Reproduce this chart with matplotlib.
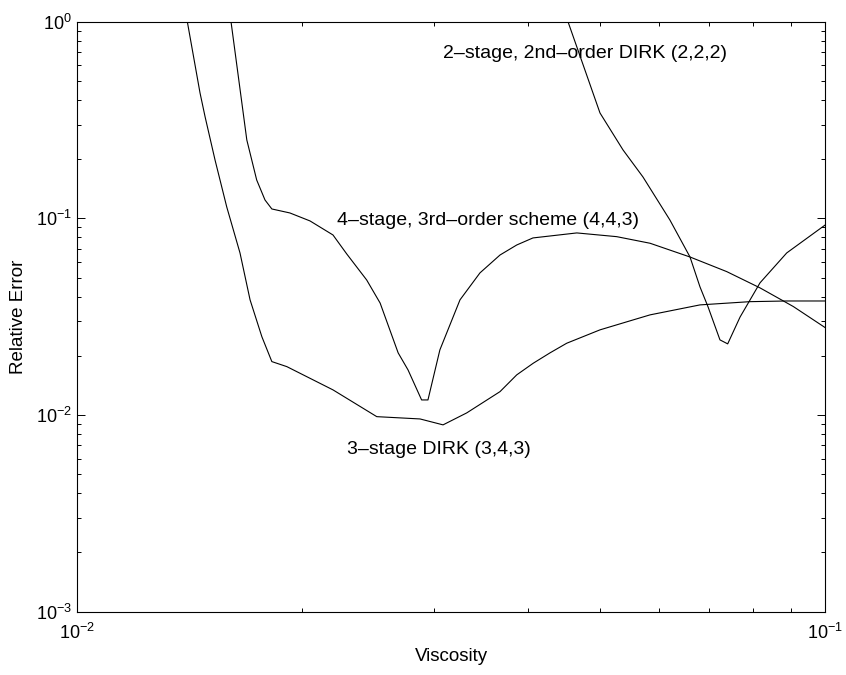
import numpy as np
import matplotlib.pyplot as plt
from matplotlib.ticker import NullFormatter

plt.rcParams['font.family'] = ['Liberation Sans', 'DejaVu Sans']
plt.rcParams['mathtext.default'] = 'regular'

# 3-stage DIRK (3,4,3)
nu_343 = [0.01403, 0.01459, 0.01482, 0.01528, 0.01584, 0.01650, 0.01702, 0.01765,
          0.01820, 0.01906, 0.02197, 0.02514, 0.02872, 0.03083, 0.03316, 0.03674,
          0.03868, 0.04070, 0.04285, 0.04511, 0.04998, 0.05534, 0.05831, 0.06800,
          0.07930, 0.08881, 0.1]
err_343 = [1.0, 0.434, 0.328, 0.198, 0.1143, 0.0667, 0.0385, 0.0250,
           0.01869, 0.01762, 0.01342, 0.00981, 0.00955, 0.00891, 0.01025, 0.01315,
           0.01600, 0.01834, 0.0207, 0.02317, 0.0271, 0.03044, 0.0323, 0.0363,
           0.0377, 0.0380, 0.0380]

# 4-stage, 3rd-order scheme (4,4,3)
nu_443 = [0.01605, 0.01685, 0.01737, 0.01782, 0.01820, 0.01924, 0.02047, 0.02197,
          0.02292, 0.02437, 0.02540, 0.02685, 0.02768, 0.02886, 0.02943, 0.03053,
          0.03248, 0.03454, 0.03674, 0.03868, 0.04066, 0.04654, 0.05262, 0.05831,
          0.06594, 0.07383, 0.08180, 0.09064, 0.1]
err_443 = [1.0, 0.2504, 0.1567, 0.124, 0.1116, 0.1065, 0.0970, 0.0823,
           0.0659, 0.0486, 0.0371, 0.0207, 0.01695, 0.01193, 0.01193, 0.02143,
           0.0385, 0.0528, 0.0651, 0.0732, 0.0795, 0.0843, 0.0807, 0.0747,
           0.0636, 0.0536, 0.0443, 0.0356, 0.0278]

# 2-stage, 2nd-order DIRK (2,2,2)
nu_222 = [0.04529, 0.04998, 0.05365, 0.05705, 0.06198, 0.06594, 0.06800, 0.06970,
          0.07231, 0.07405, 0.07693, 0.08180, 0.08881, 0.1]
err_222 = [1.0, 0.3434, 0.2228, 0.1623, 0.0981, 0.0636, 0.0448, 0.0355,
           0.0241, 0.0230, 0.0315, 0.0470, 0.0667, 0.0926]

fig = plt.figure(figsize=(8.46, 6.75), dpi=100)
ax = fig.add_axes([0.0914, 0.0938, 0.8841, 0.8741])

for xs, ys in [(nu_343, err_343), (nu_443, err_443), (nu_222, err_222)]:
    ax.plot(xs, ys, color='black', lw=0.8)

ax.set_xscale('log')
ax.set_yscale('log')
ax.set_xlim(1e-2, 1e-1)
ax.set_ylim(1e-3, 1e0)
ax.xaxis.set_minor_formatter(NullFormatter())
ax.yaxis.set_minor_formatter(NullFormatter())

ax.tick_params(which='both', direction='in', top=True, right=True, labelsize=13, pad=4)
ax.tick_params(axis='x', which='both', pad=8)
ax.tick_params(which='major', length=5.5, width=0.7)
ax.tick_params(which='minor', length=3, width=0.7)
for s in ax.spines.values():
    s.set_linewidth(0.8)

ax.set_xlabel('Viscosity', fontsize=13.5, labelpad=4)
ax.set_ylabel('Relative Error', fontsize=13.5, labelpad=6)

ax.text(0.03085, 0.685, '2\u2013stage, 2nd\u2013order DIRK (2,2,2)', fontsize=14, va='center')
ax.text(0.02222, 0.097, '4\u2013stage, 3rd\u2013order scheme (4,4,3)', fontsize=14, va='center')
ax.text(0.02292, 0.00664, '3\u2013stage DIRK (3,4,3)', fontsize=14, va='center')

fig.savefig('out.png')
